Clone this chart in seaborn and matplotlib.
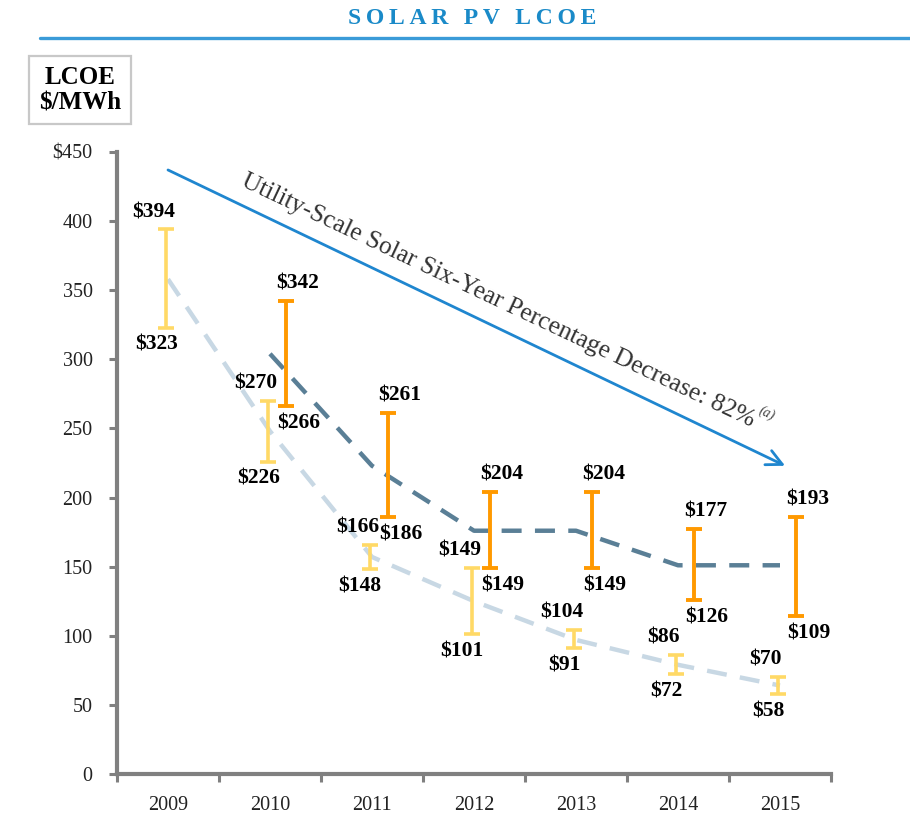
import numpy as np
import pandas as pd
import matplotlib
matplotlib.use("Agg")
import matplotlib.pyplot as plt
import seaborn as sns

# ---------------- data ----------------
years = ["2009", "2010", "2011", "2012", "2013", "2014", "2015"]
utility_low = [323, 226, 148, 101, 91, 72, 58]
utility_high = [394, 270, 166, 149, 104, 86, 70]
utility_trend = [358, 248, 157, 125, 97, 79, 64]
rooftop_low = [np.nan, 266, 186, 149, 149, 126, 114]
rooftop_high = [np.nan, 342, 261, 204, 204, 177, 186]
rooftop_trend = [np.nan, 304, 223, 176, 176, 151, 151]
utility_low_labels = ["$323", "$226", "$148", "$101", "$91", "$72", "$58"]
utility_high_labels = ["$394", "$270", "$166", "$149", "$104", "$86", "$70"]
rooftop_low_labels = ["", "$266", "$186", "$149", "$149", "$126", "$109"]
rooftop_high_labels = ["", "$342", "$261", "$204", "$204", "$177", "$193"]
y_ticks = [0, 50, 100, 150, 200, 250, 300, 350, 400, 450]
y_tick_labels = ["0", "50", "100", "150", "200", "250", "300", "350", "400", "$450"]
title_text = "SOLAR PV LCOE"
ylabel_text = "LCOE\n$/MWh"
arrow_text = "Utility-Scale Solar Six-Year Percentage Decrease: 82%"
arrow_note = "(a)"
arrow_start = (0.0, 437)
arrow_end = (6.05, 223)

# ---------------- style ----------------
sns.set_theme(style="white")
plt.rcParams["font.family"] = ["Liberation Serif", "DejaVu Serif"]
plt.rcParams["text.parse_math"] = False

YELLOW = "#FFD966"
ORANGE = "#FF9900"
LIGHT_LINE = "#C8D8E4"
DARK_LINE = "#5A7F96"
BLUE = "#1F86CF"
GRAY = "#808080"

fig = plt.figure(figsize=(9.1, 8.19), dpi=100)
ax = fig.add_axes([117 / 910, 45 / 819, (831 - 117) / 910, (774 - 152) / 819])

x = np.arange(len(years))
df = pd.DataFrame({
    "x": x,
    "utility_trend": utility_trend,
    "rooftop_trend": rooftop_trend,
})

# trend lines
sns.lineplot(data=df, x="x", y="utility_trend", ax=ax, color=LIGHT_LINE,
             lw=3.2, zorder=2)
sns.lineplot(data=df.dropna(), x="x", y="rooftop_trend", ax=ax, color=DARK_LINE,
             lw=3.2, zorder=2)
for ln in ax.lines:
    ln.set_dashes((4.5, 3))

# range bars
u_lo = np.array(utility_low, float)
u_hi = np.array(utility_high, float)
r_lo = np.array(rooftop_low, float)
r_hi = np.array(rooftop_high, float)
xu = x - 0.02
xr = x + 0.16
ax.errorbar(xu, (u_lo + u_hi) / 2, yerr=[(u_hi - u_lo) / 2, (u_hi - u_lo) / 2],
            fmt="none", ecolor=YELLOW, elinewidth=2.6, capsize=5.8, capthick=2.6,
            zorder=3)
m = ~np.isnan(r_lo)
ax.errorbar(xr[m], ((r_lo + r_hi) / 2)[m], yerr=[((r_hi - r_lo) / 2)[m], ((r_hi - r_lo) / 2)[m]],
            fmt="none", ecolor=ORANGE, elinewidth=2.8, capsize=5.6, capthick=2.8,
            zorder=3)

# data labels
lab_kw = dict(textcoords="offset points", ha="center", va="center",
              fontsize=15.5, fontweight="bold", color="black", zorder=4)
for i in range(len(years)):
    ax.annotate(utility_high_labels[i], (xu[i], u_hi[i]), xytext=(-9, 12.5), **lab_kw)
    ax.annotate(utility_low_labels[i], (xu[i], u_lo[i]), xytext=(-7, -12.5), **lab_kw)
    if rooftop_high_labels[i]:
        ax.annotate(rooftop_high_labels[i], (xr[i], r_hi[i]), xytext=(8, 12.5), **lab_kw)
        ax.annotate(rooftop_low_labels[i], (xr[i], r_lo[i]), xytext=(9, -12.5), **lab_kw)

# arrow + rotated text
ax.annotate("", xy=arrow_end, xytext=arrow_start,
            arrowprops=dict(arrowstyle="->", color=BLUE, lw=2.0, mutation_scale=28,
                            shrinkA=0, shrinkB=0), zorder=3)
ax.text(3.24, 342, arrow_text, rotation=-25.3, rotation_mode="anchor",
        ha="center", va="center", fontsize=18.4, color="#333333", zorder=4)
ax.text(5.87, 261, arrow_note, rotation=-25.3, rotation_mode="anchor",
        ha="center", va="center", fontsize=10, style="italic", color="#444444", zorder=4)

# axes
ax.set_xlim(-0.5, 6.5)
ax.set_ylim(0, 450)
ax.set_xlabel("")
ax.set_ylabel("")
ax.set_xticks(np.arange(-0.5, 7, 1.0))
ax.set_xticklabels([])
ax.set_xticks(x, minor=True)
ax.set_xticklabels(years, minor=True, fontsize=14.5, color="#222222")
ax.tick_params(axis="x", which="major", direction="out", length=5.5, width=2.2,
               color=GRAY, bottom=True)
ax.tick_params(axis="x", which="minor", length=0, pad=16, bottom=True)
ax.set_yticks(y_ticks)
ax.set_yticklabels(y_tick_labels, fontsize=14.5, color="#222222")
ax.tick_params(axis="y", direction="out", length=5.5, width=2.2, color=GRAY,
               pad=12, left=True)
for s in ["top", "right"]:
    ax.spines[s].set_visible(False)
for s in ["left", "bottom"]:
    ax.spines[s].set_color(GRAY)
    ax.spines[s].set_linewidth(3)
ax.grid(False)

# title and rule
spaced_title = "\u2009".join(title_text)
fig.text(472 / 910, 1 - 19 / 819, spaced_title, ha="center", va="center",
         fontsize=17, fontweight="bold", color="#1A8AC8")
fig.add_artist(plt.Line2D([40 / 910, 1.0], [1 - 38 / 819, 1 - 38 / 819],
                          color="#3A9BD8", lw=2.4, transform=fig.transFigure))

# y-label box
fig.text(80 / 910, 1 - 90 / 819, ylabel_text, ha="center", va="center",
         fontsize=18, fontweight="bold", color="black", linespacing=1.15,
         bbox=dict(boxstyle="square,pad=0.38", fc="white", ec="#C8C8C8", lw=1.6))

fig.savefig("out.png", dpi=100)
